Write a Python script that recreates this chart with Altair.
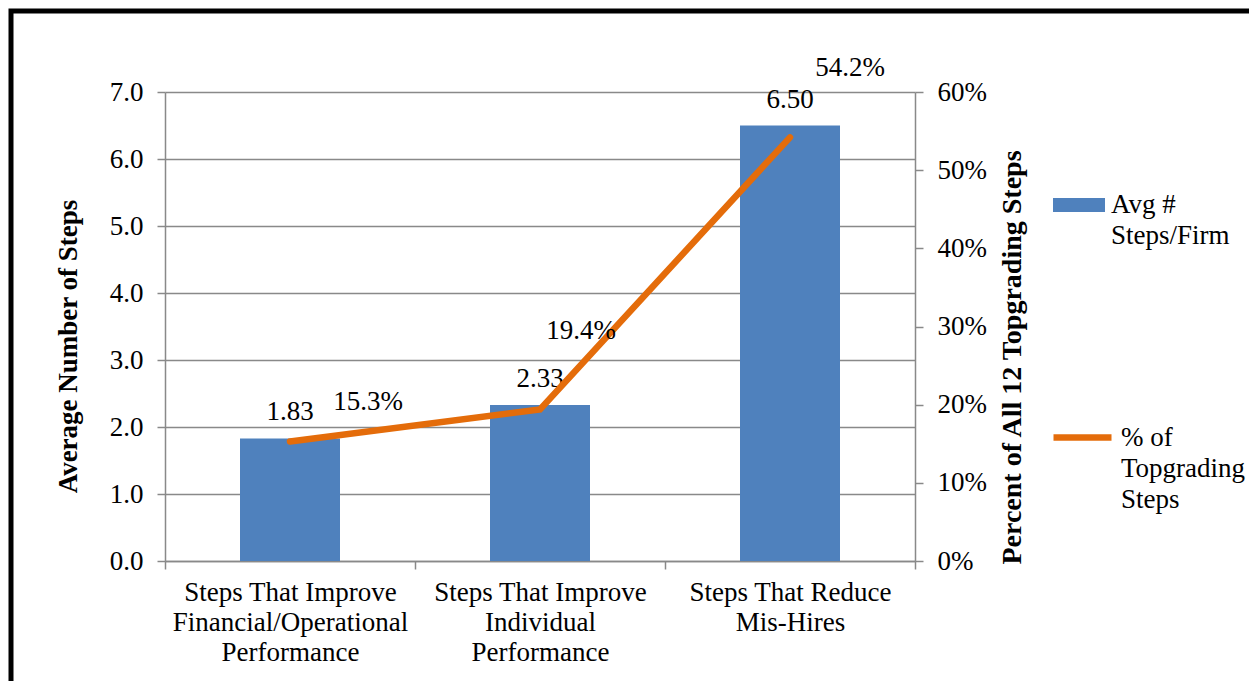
import altair as alt
import pandas as pd

# Chart values
categories = [
    "Steps That Improve|Financial/Operational|Performance",
    "Steps That Improve|Individual|Performance",
    "Steps That Reduce|Mis-Hires",
]
avg_steps = [1.83, 2.33, 6.50]
pct_steps = [15.3, 19.4, 54.2]

bar_series = "Avg #|Steps/Firm"
line_series = "% of|Topgrading|Steps"

# Hand-placed offsets for the percentage labels (pixels from each point)
pct_label_dx = [78, 41, 60]
pct_label_dy = [-39, -78, -69]

BLUE = "#4F81BD"
ORANGE = "#E46C0A"
GREY = "#898989"
FONT = "Liberation Serif"
FS = 27

df = pd.DataFrame({"cat": categories, "avg": avg_steps, "pct": pct_steps})
df["bar_series"] = bar_series
df["line_series"] = line_series

x_enc = alt.X(
    "cat:N",
    sort=categories,
    scale=alt.Scale(paddingInner=0, paddingOuter=0),
    axis=alt.Axis(
        title=None,
        labelAngle=0,
        labelExpr="split(datum.label, '|')",
        labelFont=FONT,
        labelFontSize=FS,
        labelLineHeight=30,
        labelPadding=10,
        labelBaseline="top",
        labelLimit=500,
        tickBand="extent",
        tickSize=8,
        grid=False,
    ),
)

base = alt.Chart(df)

bars = base.mark_bar(width=alt.RelativeBandSize(0.4)).encode(
    x=x_enc,
    y=alt.Y(
        "avg:Q",
        scale=alt.Scale(domain=[0, 7], nice=False),
        axis=alt.Axis(
            title="Average Number of Steps",
            titleFontSize=27,
            values=[0, 1, 2, 3, 4, 5, 6, 7],
            format=".1f",
            labelFont=FONT,
            labelFontSize=FS,
            grid=True,
            tickSize=8,
            labelPadding=14,
            titleAngle=270,
            titleX=-97,
            titleY=254,
            titleBaseline="middle",
        ),
    ),
    fill=alt.Fill(
        "bar_series:N",
        scale=alt.Scale(range=[BLUE]),
        legend=alt.Legend(
            title=None,
            orient="none",
            legendX=888,
            legendY=87,
            symbolType="M-1,-0.27H1V0.27H-1Z",
            symbolSize=2704,
            symbolStrokeWidth=0,
            labelExpr="split(datum.label, '|')",
            labelFont=FONT,
            labelFontSize=FS,
            labelOffset=6,
        ),
    ),
)

bar_text = base.mark_text(dy=-26, baseline="middle", font=FONT, fontSize=FS).encode(
    x=alt.X("cat:N", sort=categories),
    y=alt.Y("avg:Q"),
    text=alt.Text("avg:Q", format=".2f"),
)

left = alt.layer(bars, bar_text)

line = base.mark_line(strokeWidth=6.5, strokeCap="round", strokeJoin="miter").encode(
    x=alt.X("cat:N", sort=categories),
    y=alt.Y(
        "pct:Q",
        scale=alt.Scale(domain=[0, 60], nice=False),
        axis=alt.Axis(
            title="Percent of All 12 Topgrading Steps",
            titleFontSize=28,
            orient="right",
            values=[0, 10, 20, 30, 40, 50, 60],
            labelExpr="datum.value + '%'",
            labelFont=FONT,
            labelFontSize=FS,
            grid=False,
            tickSize=8,
            labelPadding=14,
            titleAngle=270,
            titleX=97,
            titleY=265,
            titleBaseline="middle",
        ),
    ),
    stroke=alt.Stroke(
        "line_series:N",
        scale=alt.Scale(range=[ORANGE]),
        legend=alt.Legend(
            title=None,
            orient="none",
            legendX=885,
            legendY=313,
            symbolType="stroke",
            symbolSize=3364,
            symbolStrokeWidth=6.5,
            labelExpr="split(datum.label, '|')",
            labelFont=FONT,
            labelFontSize=FS,
            labelOffset=6,
        ),
    ),
)

pct_texts = []
for cat, dx, dy in zip(categories, pct_label_dx, pct_label_dy):
    pct_texts.append(
        base.transform_filter(alt.datum.cat == cat)
        .transform_calculate(lbl="format(datum.pct, '.1f') + '%'")
        .mark_text(dx=dx, dy=dy, baseline="middle", font=FONT, fontSize=FS)
        .encode(
            x=alt.X("cat:N", sort=categories),
            y=alt.Y("pct:Q"),
            text="lbl:N",
        )
    )

right = alt.layer(line, *pct_texts)

# Outer frame around the whole figure
frame = alt.Chart(alt.Data(values=[{}])).mark_rect(
    fill=None, stroke="black", strokeWidth=5
).encode(
    x=alt.value(-154), x2=alt.value(1100), y=alt.value(-81), y2=alt.value(610)
)

chart = (
    alt.layer(left, right, frame)
    .resolve_scale(y="independent")
    .properties(
        width=750,
        height=469,
        padding={"left": 165, "top": 92, "right": 334, "bottom": 120},
        autosize=alt.AutoSizeParams(type="none"),
        background="white",
    )
    .configure_view(stroke=None)
    .configure_axis(
        labelFont=FONT,
        labelFontSize=FS,
        labelColor="black",
        titleFont=FONT,
        titleFontWeight="bold",
        titleColor="black",
        domainColor=GREY,
        domainWidth=1.5,
        tickColor=GREY,
        tickWidth=1.5,
        gridColor=GREY,
        gridWidth=1.5,
    )
    .configure_legend(
        labelFont=FONT,
        labelFontSize=FS,
        labelColor="black",
        padding=0,
        labelLimit=300,
    )
    .configure_text(font=FONT, fontSize=FS, color="black")
)

# Multi-line guide labels share the same line spacing
chart.config.style = {"guide-label": {"font": FONT, "lineHeight": 31}}

chart.save("out.html", embed_options={"renderer": "svg", "actions": False})
